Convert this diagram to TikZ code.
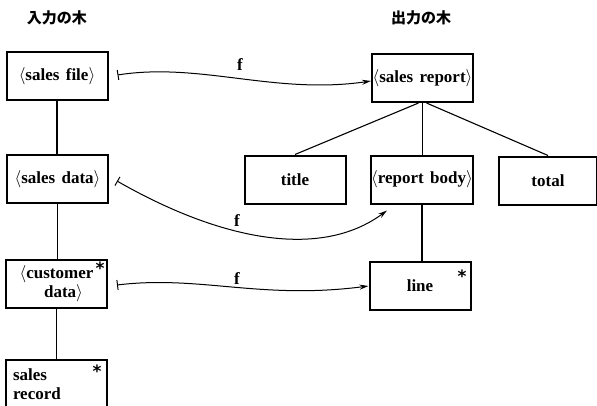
\documentclass[tikz,border=0pt]{standalone}
\usepackage{fontspec}
\usetikzlibrary{arrows.meta}
\newfontfamily\jpfont{Noto Sans CJK JP}
\newfontfamily\labelfont[WordSpace=1.5]{Liberation Serif}
\newfontfamily\starface{DejaVu Sans}
\newcommand\boxfont{\labelfont\bfseries\fontsize{17}{19.5}\selectfont}
\newcommand\starfont{\starface\bfseries\fontsize{17}{17}\selectfont}
\begin{document}
\begin{tikzpicture}[x=1pt,y=-1pt,
  box/.style={draw,line width=2pt,minimum width=101pt,minimum height=48pt,
    inner sep=0pt,font=\boxfont},
  tree/.style={line width=1.1pt},
  fmap/.style={line width=1pt,
    {Bar[width=10pt,line width=1pt]}-{Stealth[length=9pt,width=5pt]}},
  flabel/.style={font=\boxfont,inner sep=0pt},
  star/.style={font=\starfont,inner sep=0pt},
  heading/.style={font=\jpfont\bfseries\fontsize{15}{15}\selectfont}]
\clip (0,0) rectangle (597,405);

% headings of the two trees
\node[heading] (inTree)  at (57,18)  {入力の木};
\node[heading] (outTree) at (421,18) {出力の木};

% input tree
\node[box] (sf) at (57,76)     {$\langle$sales file$\rangle$};
\node[box] (sd) at (57.5,179)  {$\langle$sales data$\rangle$};
\node[box,align=center] (cd) at (56.5,283.5)
  {$\langle$customer\\\hspace*{14pt}data$\rangle$};
\node[box,text width=86pt,align=left] (sr) at (56,384) {sales\\record};
\node[star] (cdStar) at (100,268) {*};
\node[star] (srStar) at (97,371) {*};

% output tree
\node[box] (srep)  at (422.5,78)    {$\langle$sales report$\rangle$};
\node[box] (title) at (295,179.5)   {title};
\node[box] (rb)    at (422,179.5)   {$\langle$report body$\rangle$};
\node[box,minimum width=98pt] (total) at (548,180.5) {total};
\node[box] (ln)    at (420,286)     {line};
\node[star] (lnStar) at (462,276) {*};

% tree edges
\draw[tree] (sf.south) -- (sf.south |- sd.north);
\draw[tree] (sd.south) -- (sd.south |- cd.north);
\draw[tree] (cd.south) -- (cd.south |- sr.north);
\draw[tree] ([xshift=-4pt]srep.south) -- (title.north);
\draw[tree] (srep.south) -- (srep.south |- rb.north);
\draw[tree] ([xshift=4pt]srep.south) -- (total.north);
\draw[tree] (rb.south) -- (rb.south |- ln.north);

% mappings f between the trees
\draw[fmap] ([xshift=9pt,yshift=1pt]sf.east)
  .. controls (200,62) and (275,95) .. ([yshift=-3pt]srep.west);
\draw[fmap] ([xshift=8pt,yshift=-2pt]sd.east)
  .. controls (220,240) and (320,260) .. ([xshift=-35pt,yshift=-6pt]rb.south);
\draw[fmap] ([xshift=9pt,yshift=-1.5pt]cd.east)
  .. controls (200,275) and (260,300) .. (ln.west);
\node[flabel] (f1) at (240,65)  {f};
\node[flabel] (f2) at (237,221) {f};
\node[flabel] (f3) at (237,279) {f};
\end{tikzpicture}
\end{document}
